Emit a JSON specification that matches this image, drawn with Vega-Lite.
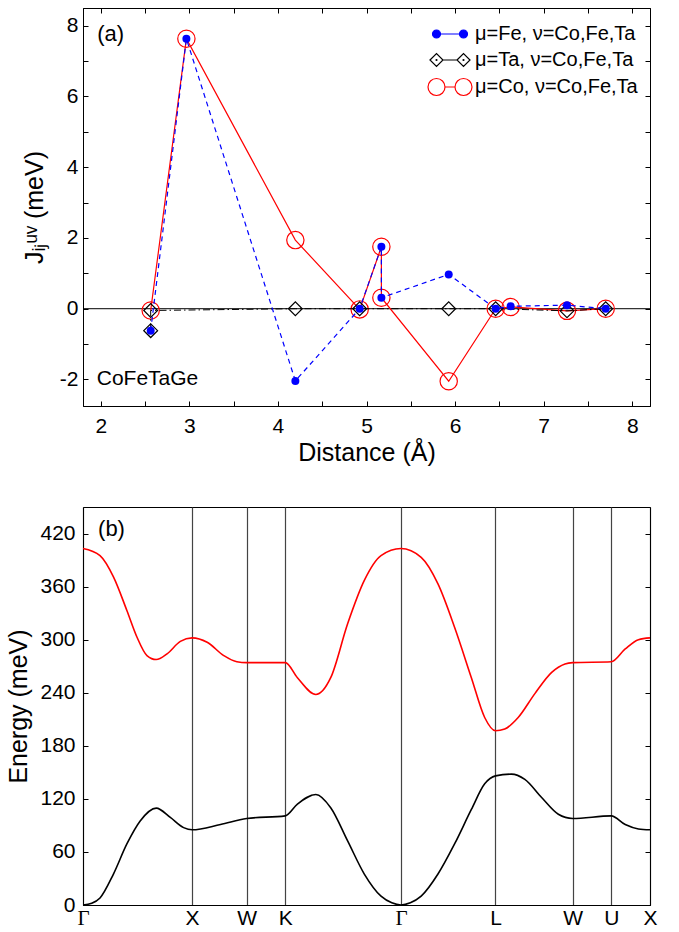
{
  "$schema": "https://vega.github.io/schema/vega-lite/v6.json",
  "background": "white",
  "padding": {"left": 6, "top": 7, "right": 5, "bottom": 3},
  "datasets": {
    "jdata": [
      {"s": "Co", "o": 1, "d": 2.564, "J": -0.05},
      {"s": "Co", "o": 2, "d": 2.967, "J": 7.63},
      {"s": "Co", "o": 3, "d": 4.197, "J": 1.94},
      {"s": "Co", "o": 4, "d": 4.923, "J": -0.02},
      {"s": "Co", "o": 5, "d": 5.168, "J": 1.75},
      {"s": "Co", "o": 6, "d": 5.168, "J": 0.31},
      {"s": "Co", "o": 7, "d": 5.928, "J": -2.05},
      {"s": "Co", "o": 8, "d": 6.458, "J": 0.0},
      {"s": "Co", "o": 9, "d": 6.627, "J": 0.05},
      {"s": "Co", "o": 10, "d": 7.263, "J": -0.06},
      {"s": "Co", "o": 11, "d": 7.70, "J": 0.0},
      {"s": "Fe", "o": 1, "d": 2.564, "J": -0.62},
      {"s": "Fe", "o": 2, "d": 2.967, "J": 7.63},
      {"s": "Fe", "o": 3, "d": 4.197, "J": -2.04},
      {"s": "Fe", "o": 4, "d": 4.923, "J": 0.0},
      {"s": "Fe", "o": 5, "d": 5.168, "J": 1.75},
      {"s": "Fe", "o": 6, "d": 5.168, "J": 0.31},
      {"s": "Fe", "o": 7, "d": 5.928, "J": 0.97},
      {"s": "Fe", "o": 8, "d": 6.458, "J": 0.0},
      {"s": "Fe", "o": 9, "d": 6.627, "J": 0.07},
      {"s": "Fe", "o": 10, "d": 7.263, "J": 0.10},
      {"s": "Fe", "o": 11, "d": 7.70, "J": 0.0},
      {"s": "Ta", "o": 1, "d": 2.564, "J": -0.62},
      {"s": "Ta", "o": 2, "d": 2.564, "J": -0.05},
      {"s": "Ta", "o": 3, "d": 4.197, "J": 0.0},
      {"s": "Ta", "o": 4, "d": 4.923, "J": 0.0},
      {"s": "Ta", "o": 5, "d": 5.928, "J": 0.0},
      {"s": "Ta", "o": 6, "d": 6.458, "J": 0.0},
      {"s": "Ta", "o": 7, "d": 7.263, "J": -0.06},
      {"s": "Ta", "o": 8, "d": 7.70, "J": 0.0}
    ],
    "bands": [
      {"b": "opt", "k": 0, "E": 403},
      {"b": "opt", "k": 0.156, "E": 395},
      {"b": "opt", "k": 0.279, "E": 371},
      {"b": "opt", "k": 0.402, "E": 333},
      {"b": "opt", "k": 0.494, "E": 303},
      {"b": "opt", "k": 0.586, "E": 282},
      {"b": "opt", "k": 0.671, "E": 277.5},
      {"b": "opt", "k": 0.77, "E": 284},
      {"b": "opt", "k": 0.892, "E": 298},
      {"b": "opt", "k": 1.0, "E": 302},
      {"b": "opt", "k": 1.138, "E": 297},
      {"b": "opt", "k": 1.29, "E": 282},
      {"b": "opt", "k": 1.41, "E": 275},
      {"b": "opt", "k": 1.5, "E": 274},
      {"b": "opt", "k": 1.854, "E": 274},
      {"b": "opt", "k": 1.965, "E": 257},
      {"b": "opt", "k": 2.134, "E": 238},
      {"b": "opt", "k": 2.27, "E": 257},
      {"b": "opt", "k": 2.425, "E": 318},
      {"b": "opt", "k": 2.578, "E": 367},
      {"b": "opt", "k": 2.731, "E": 395},
      {"b": "opt", "k": 2.914, "E": 403},
      {"b": "opt", "k": 3.099, "E": 393},
      {"b": "opt", "k": 3.253, "E": 363},
      {"b": "opt", "k": 3.405, "E": 314},
      {"b": "opt", "k": 3.559, "E": 257},
      {"b": "opt", "k": 3.681, "E": 212},
      {"b": "opt", "k": 3.78, "E": 197},
      {"b": "opt", "k": 3.865, "E": 199},
      {"b": "opt", "k": 3.988, "E": 212},
      {"b": "opt", "k": 4.141, "E": 239},
      {"b": "opt", "k": 4.295, "E": 263},
      {"b": "opt", "k": 4.417, "E": 272.5},
      {"b": "opt", "k": 4.487, "E": 274},
      {"b": "opt", "k": 4.841, "E": 275},
      {"b": "opt", "k": 4.969, "E": 289.5},
      {"b": "opt", "k": 5.09, "E": 300},
      {"b": "opt", "k": 5.196, "E": 302},
      {"b": "ac", "k": 0, "E": 0},
      {"b": "ac", "k": 0.08, "E": 2},
      {"b": "ac", "k": 0.156, "E": 8},
      {"b": "ac", "k": 0.279, "E": 35},
      {"b": "ac", "k": 0.402, "E": 69},
      {"b": "ac", "k": 0.524, "E": 95},
      {"b": "ac", "k": 0.671, "E": 109.5},
      {"b": "ac", "k": 0.80, "E": 99},
      {"b": "ac", "k": 0.922, "E": 87.5},
      {"b": "ac", "k": 1.0, "E": 85},
      {"b": "ac", "k": 1.26, "E": 91},
      {"b": "ac", "k": 1.5, "E": 97.8},
      {"b": "ac", "k": 1.854, "E": 100.8},
      {"b": "ac", "k": 1.965, "E": 114},
      {"b": "ac", "k": 2.134, "E": 125},
      {"b": "ac", "k": 2.27, "E": 110},
      {"b": "ac", "k": 2.425, "E": 72.5},
      {"b": "ac", "k": 2.578, "E": 35},
      {"b": "ac", "k": 2.731, "E": 10},
      {"b": "ac", "k": 2.83, "E": 2.5},
      {"b": "ac", "k": 2.914, "E": 0},
      {"b": "ac", "k": 3.0, "E": 2.5},
      {"b": "ac", "k": 3.099, "E": 10},
      {"b": "ac", "k": 3.253, "E": 35},
      {"b": "ac", "k": 3.405, "E": 69},
      {"b": "ac", "k": 3.559, "E": 108},
      {"b": "ac", "k": 3.681, "E": 137},
      {"b": "ac", "k": 3.78, "E": 146},
      {"b": "ac", "k": 3.926, "E": 148},
      {"b": "ac", "k": 4.049, "E": 142},
      {"b": "ac", "k": 4.203, "E": 121.5},
      {"b": "ac", "k": 4.356, "E": 102.6},
      {"b": "ac", "k": 4.487, "E": 97.8},
      {"b": "ac", "k": 4.841, "E": 100.8},
      {"b": "ac", "k": 4.969, "E": 91},
      {"b": "ac", "k": 5.09, "E": 86},
      {"b": "ac", "k": 5.196, "E": 85}
    ]
  },
  "vconcat": [
    {
      "width": 567,
      "height": 398,
      "data": {"name": "jdata"},
      "layer": [
        {
          "data": {"values": [{}]},
          "mark": {"type": "rule", "color": "black", "strokeWidth": 1},
          "encoding": {"y": {"datum": 0, "type": "quantitative", "scale": {"domain": [-2.75, 8.5], "nice": false, "zero": false}, "axis": null}}
        },
        {
          "transform": [{"filter": "datum.s === 'Co'"}],
          "mark": {"type": "line", "color": "#ff0000", "strokeWidth": 1.2},
          "encoding": {
            "x": {"field": "d", "type": "quantitative", "scale": {"domain": [1.8, 8.2], "nice": false, "zero": false},
              "axis": {"orient": "bottom", "values": [2, 2.5, 3, 3.5, 4, 4.5, 5, 5.5, 6, 6.5, 7, 7.5, 8], "labelExpr": "datum.value % 1 === 0 ? '' + datum.value : ''", "tickSize": -5, "labelPadding": 14, "labelFlush": false, "labelOverlap": false, "title": "Distance (Å)", "titlePadding": 4}},
            "y": {"field": "J", "type": "quantitative", "scale": {"domain": [-2.75, 8.5], "nice": false, "zero": false},
              "axis": {"orient": "left", "values": [-2, -1, 0, 1, 2, 3, 4, 5, 6, 7, 8], "labelExpr": "datum.value % 2 === 0 ? '' + datum.value : ''", "tickSize": -5, "labelPadding": 10, "labelFlush": false, "labelOverlap": false, "title": "Jᵢⱼᵘᵛ (meV)", "titlePadding": 12}},
            "order": {"field": "o", "type": "quantitative"}
          }
        },
        {
          "transform": [{"filter": "datum.s === 'Co'"}],
          "mark": {"type": "point", "shape": "circle", "size": 300, "filled": false, "color": "#ff0000", "strokeWidth": 1.2, "opacity": 1},
          "encoding": {
            "x": {"field": "d", "type": "quantitative", "axis": null},
            "y": {"field": "J", "type": "quantitative", "axis": null}
          }
        },
        {
          "transform": [{"filter": "datum.s === 'Ta'"}],
          "mark": {"type": "line", "color": "black", "strokeWidth": 1, "strokeDash": [7, 3, 1.5, 3]},
          "encoding": {
            "x": {"field": "d", "type": "quantitative",
              "axis": {"orient": "top", "values": [2, 2.5, 3, 3.5, 4, 4.5, 5, 5.5, 6, 6.5, 7, 7.5, 8], "labels": false, "tickSize": -5, "title": null}},
            "y": {"field": "J", "type": "quantitative",
              "axis": {"orient": "right", "values": [-2, -1, 0, 1, 2, 3, 4, 5, 6, 7, 8], "labels": false, "tickSize": -5, "title": null}},
            "order": {"field": "o", "type": "quantitative"}
          }
        },
        {
          "transform": [{"filter": "datum.s === 'Ta'"}],
          "mark": {"type": "point", "shape": "diamond", "size": 190, "filled": false, "color": "black", "strokeWidth": 1.2, "opacity": 1},
          "encoding": {
            "x": {"field": "d", "type": "quantitative", "axis": null},
            "y": {"field": "J", "type": "quantitative", "axis": null}
          }
        },
        {
          "transform": [{"filter": "datum.s === 'Fe'"}],
          "mark": {"type": "line", "color": "#0000ff", "strokeWidth": 1.2, "strokeDash": [5, 4]},
          "encoding": {
            "x": {"field": "d", "type": "quantitative", "axis": null},
            "y": {"field": "J", "type": "quantitative", "axis": null},
            "order": {"field": "o", "type": "quantitative"}
          }
        },
        {
          "transform": [{"filter": "datum.s === 'Fe'"}],
          "mark": {"type": "point", "shape": "circle", "size": 64, "filled": true, "color": "#0000ff", "opacity": 1},
          "encoding": {
            "x": {"field": "d", "type": "quantitative", "axis": null},
            "y": {"field": "J", "type": "quantitative", "axis": null}
          }
        },
        {
          "data": {"values": [{}]},
          "mark": {"type": "text", "align": "left", "baseline": "middle", "fontSize": 22, "font": "Liberation Sans", "color": "black"},
          "encoding": {
            "x": {"datum": 1.96, "type": "quantitative", "axis": null},
            "y": {"datum": 7.76, "type": "quantitative", "axis": null},
            "text": {"value": "(a)"}
          }
        },
        {
          "data": {"values": [{}]},
          "mark": {"type": "text", "align": "left", "baseline": "middle", "fontSize": 21, "font": "Liberation Sans", "color": "black"},
          "encoding": {
            "x": {"datum": 1.955, "type": "quantitative", "axis": null},
            "y": {"datum": -1.98, "type": "quantitative", "axis": null},
            "text": {"value": "CoFeTaGe"}
          }
        },
        {
          "transform": [{"filter": "false"}],
          "mark": {"type": "point", "opacity": 1, "strokeWidth": 1.2},
          "encoding": {
            "x": {"field": "d", "type": "quantitative", "axis": null},
            "y": {"field": "J", "type": "quantitative", "axis": null},
            "stroke": {"field": "s", "type": "nominal", "scale": {"domain": ["Fe", "Ta", "Co"], "range": ["#0000ff", "#000000", "#ff0000"]},
              "legend": {"orient": "none", "legendX": 357, "legendY": 16, "title": null, "labelExpr": "datum.value === 'Fe' ? 'μ=Fe, ν=Co,Fe,Ta' : datum.value === 'Ta' ? 'μ=Ta, ν=Co,Fe,Ta' : 'μ=Co, ν=Co,Fe,Ta'", "labelFont": "Liberation Sans", "labelFontSize": 20, "labelColor": "black", "symbolSize": 100, "symbolStrokeWidth": 1.2, "labelOffset": 15, "rowPadding": 6, "padding": 0, "labelLimit": 300}},
            "fill": {"field": "s", "type": "nominal", "scale": {"domain": ["Fe", "Ta", "Co"], "range": ["#0000ff", "transparent", "transparent"]},
              "legend": {"orient": "none", "legendX": 357, "legendY": 16, "title": null, "labelExpr": "datum.value === 'Fe' ? 'μ=Fe, ν=Co,Fe,Ta' : datum.value === 'Ta' ? 'μ=Ta, ν=Co,Fe,Ta' : 'μ=Co, ν=Co,Fe,Ta'", "labelFont": "Liberation Sans", "labelFontSize": 20, "labelColor": "black", "symbolSize": 100, "symbolStrokeWidth": 1.2, "labelOffset": 15, "rowPadding": 6, "padding": 0, "labelLimit": 300}},
            "shape": {"field": "s", "type": "nominal", "scale": {"domain": ["Fe", "Ta", "Co"], "range": [
                "M-1.9,0A0.8,0.8 0 1,1 -3.5,0A0.8,0.8 0 1,1 -1.9,0ZM-1.9,0L1.9,0M1.9,0A0.8,0.8 0 1,1 3.5,0A0.8,0.8 0 1,1 1.9,0Z",
                "M-4,0L-2.7,-1.3L-1.4,0L-2.7,1.3ZM-1.4,0L1.4,0M1.4,0L2.7,-1.3L4,0L2.7,1.3ZM-2.6,0A0.1,0.1 0 1,1 -2.8,0A0.1,0.1 0 1,1 -2.6,0M2.8,0A0.1,0.1 0 1,1 2.6,0A0.1,0.1 0 1,1 2.8,0",
                "M-1,0A1.7,1.7 0 1,1 -4.4,0A1.7,1.7 0 1,1 -1,0M-1,0L1,0M1,0A1.7,1.7 0 1,1 4.4,0A1.7,1.7 0 1,1 1,0"
              ]},
              "legend": {"orient": "none", "legendX": 357, "legendY": 16, "title": null, "labelExpr": "datum.value === 'Fe' ? 'μ=Fe, ν=Co,Fe,Ta' : datum.value === 'Ta' ? 'μ=Ta, ν=Co,Fe,Ta' : 'μ=Co, ν=Co,Fe,Ta'", "labelFont": "Liberation Sans", "labelFontSize": 20, "labelColor": "black", "symbolSize": 100, "symbolStrokeWidth": 1.2, "labelOffset": 15, "rowPadding": 6, "padding": 0, "labelLimit": 300}}
          }
        }
      ],
      "resolve": {"axis": {"x": "independent", "y": "independent"}}
    },
    {
      "width": 567,
      "height": 398,
      "data": {"name": "bands"},
      "layer": [
        {
          "transform": [{"filter": "datum.b === 'opt'"}],
          "mark": {"type": "line", "color": "#ff0000", "strokeWidth": 1.6, "interpolate": "monotone"},
          "encoding": {
            "x": {"field": "k", "type": "quantitative", "scale": {"domain": [0, 5.196], "nice": false, "zero": false},
              "axis": {"orient": "bottom", "values": [0, 1, 1.5, 1.854, 2.914, 3.78, 4.487, 4.841, 5.196], "grid": true, "gridColor": "#444444", "gridWidth": 1.2, "gridOpacity": 1, "ticks": false, "labelPadding": 2, "labelFlush": false, "labelOverlap": false, "title": null,
                "labelExpr": "datum.value < 0.5 ? 'Γ' : datum.value < 1.2 ? 'X' : datum.value < 1.7 ? 'W' : datum.value < 2.5 ? 'K' : datum.value < 3.3 ? 'Γ' : datum.value < 4.1 ? 'L' : datum.value < 4.6 ? 'W' : datum.value < 5.0 ? 'U' : 'X'",
                "labelFont": {"condition": {"test": "datum.value < 0.5 || (datum.value > 2.5 && datum.value < 3.3)", "value": "Liberation Serif"}, "value": "Liberation Sans"}}},
            "y": {"field": "E", "type": "quantitative", "scale": {"domain": [0, 450], "nice": false, "zero": false},
              "axis": {"orient": "left", "values": [0, 60, 120, 180, 240, 300, 360, 420], "tickSize": -5, "labelPadding": 13, "labelFlush": false, "labelOverlap": false, "title": "Energy (meV)", "titlePadding": 8}}
          }
        },
        {
          "transform": [{"filter": "datum.b === 'ac'"}],
          "mark": {"type": "line", "color": "black", "strokeWidth": 1.6, "interpolate": "monotone"},
          "encoding": {
            "x": {"field": "k", "type": "quantitative", "axis": null},
            "y": {"field": "E", "type": "quantitative",
              "axis": {"orient": "right", "values": [0, 60, 120, 180, 240, 300, 360, 420], "labels": false, "tickSize": -5, "title": null}}
          }
        },
        {
          "data": {"values": [{}]},
          "mark": {"type": "text", "align": "left", "baseline": "middle", "fontSize": 22, "font": "Liberation Sans", "color": "black"},
          "encoding": {
            "x": {"datum": 0.138, "type": "quantitative", "axis": null},
            "y": {"datum": 425, "type": "quantitative", "axis": null},
            "text": {"value": "(b)"}
          }
        }
      ],
      "resolve": {"axis": {"x": "independent", "y": "independent"}}
    }
  ],
  "spacing": 101,
  "bounds": "flush",
  "config": {
    "view": {"stroke": "black", "strokeWidth": 1},
    "axis": {
      "domainColor": "black", "domainWidth": 1, "tickColor": "black", "tickWidth": 1,
      "labelColor": "black", "titleColor": "black", "labelFont": "Liberation Sans", "titleFont": "Liberation Sans",
      "labelFontSize": 21, "titleFontSize": 25, "titleFontWeight": "normal", "grid": false
    },
    "text": {"font": "Liberation Sans"}
  }
}
